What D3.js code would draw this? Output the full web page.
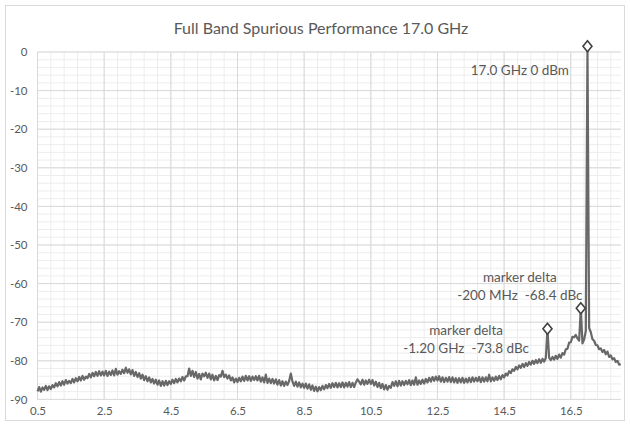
<!DOCTYPE html>
<html><head><meta charset="utf-8">
<script src="https://cdn.jsdelivr.net/npm/d3@7/dist/d3.min.js"></script>
<style>
html,body{margin:0;padding:0;background:#fff;}
svg{display:block;font-family:Lato,"Open Sans","Noto Sans",sans-serif;}
</style>
</head><body>
<svg id="chart" width="630" height="426"></svg>
<script>
// ---------------- data ----------------
const freqStart = 0.5;   // GHz, first sample
const freqStep = 0.05;   // GHz between samples
// measured level (dBm), one value per 0.05 GHz from 0.5 to 18.0 GHz
const levels = [
  -87.9,-86.8,-88.0,-86.9,-87.5,-86.5,-87.6,-86.6,-87.3,-86.3,
  -86.9,-85.8,-86.6,-85.5,-86.4,-85.3,-86.2,-85.0,-85.9,-85.2,
  -85.8,-84.7,-85.6,-84.5,-85.3,-84.2,-85.1,-83.9,-84.9,-84.1,
  -84.5,-83.4,-84.3,-83.1,-84.0,-82.9,-83.9,-82.7,-83.8,-82.8,
  -83.8,-82.6,-83.9,-82.8,-83.7,-82.5,-83.8,-82.1,-83.6,-82.7,
  -83.4,-82.3,-83.2,-81.8,-83.1,-82.2,-83.5,-82.4,-83.9,-82.9,
  -84.2,-83.2,-84.6,-83.6,-85.0,-84.0,-85.3,-84.3,-85.6,-84.7,
  -85.9,-84.9,-86.2,-85.1,-86.5,-85.3,-86.4,-85.2,-86.3,-85.3,
  -86.0,-84.9,-85.8,-84.7,-85.6,-84.6,-85.3,-84.2,-85.1,-84.0,
  -84.0,-82.0,-83.9,-82.6,-84.2,-82.9,-84.6,-83.4,-84.8,-83.3,
  -84.0,-83.1,-84.4,-83.3,-84.8,-83.6,-85.1,-83.9,-85.0,-83.7,
  -84.1,-82.6,-84.2,-83.6,-84.6,-83.8,-85.1,-84.3,-85.6,-84.6,
  -85.5,-84.4,-85.3,-84.1,-85.2,-83.9,-85.1,-84.0,-85.2,-84.1,
  -85.0,-84.0,-85.1,-83.9,-85.4,-84.3,-85.6,-83.6,-85.7,-84.6,
  -85.8,-84.7,-85.9,-84.8,-86.2,-85.0,-86.4,-85.3,-86.5,-85.4,
  -86.3,-85.2,-83.3,-85.4,-86.5,-85.4,-86.7,-85.6,-86.9,-85.9,
  -87.0,-85.9,-87.2,-86.1,-87.5,-86.4,-87.8,-86.7,-87.9,-86.8,
  -87.6,-86.5,-87.4,-86.3,-87.1,-86.0,-87.0,-85.8,-86.8,-85.7,
  -86.9,-85.8,-86.8,-85.6,-86.9,-85.7,-86.7,-85.5,-86.8,-85.7,
  -86.8,-85.6,-84.8,-85.4,-86.1,-84.9,-86.2,-85.1,-86.0,-84.9,
  -86.0,-85.0,-86.4,-85.4,-86.8,-85.7,-87.1,-86.0,-87.4,-86.3,
  -87.5,-86.5,-87.0,-85.5,-86.5,-85.3,-86.6,-85.2,-86.4,-85.3,
  -86.3,-85.2,-86.1,-85.0,-86.3,-85.1,-86.2,-84.3,-86.2,-85.1,
  -86.0,-84.9,-85.9,-84.7,-85.6,-84.4,-85.4,-84.2,-85.2,-84.1,
  -85.1,-84.0,-85.4,-84.3,-85.5,-84.4,-85.4,-84.2,-85.5,-84.3,
  -85.6,-84.5,-85.7,-84.5,-85.6,-84.4,-85.7,-84.6,-85.6,-84.4,
  -85.5,-84.3,-85.4,-84.4,-85.3,-84.2,-85.5,-84.3,-85.4,-84.3,
  -85.3,-83.6,-85.3,-84.3,-85.2,-84.1,-85.0,-83.9,-84.8,-83.7,
  -84.3,-83.3,-83.8,-82.7,-83.2,-82.2,-82.6,-81.6,-82.2,-81.2,
  -81.8,-80.8,-81.6,-80.6,-81.3,-80.3,-81.0,-80.0,-80.8,-79.8,
  -80.6,-79.6,-80.5,-79.5,-80.2,-79.3,-71.7,-79.2,-79.8,-79.0,
  -79.7,-78.7,-79.5,-78.4,-79.2,-78.0,-78.4,-77.0,-76.9,-75.3,
  -75.2,-73.8,-73.9,-73.3,-74.2,-74.8,-66.4,-75.5,-74.5,-72.3,
    1.5,-71.5,-72.6,-74.4,-74.8,-75.9,-76.0,-77.0,-76.8,-77.7,
  -77.2,-78.3,-77.6,-79.0,-78.6,-79.6,-79.3,-80.3,-80.0,-81.0,
  -80.9
];
const xTickLabels = [0.5, 2.5, 4.5, 6.5, 8.5, 10.5, 12.5, 14.5, 16.5];
const yTickLabels = [0, -10, -20, -30, -40, -50, -60, -70, -80, -90];
const markerFreqs = [15.8, 16.8, 17.0];
const markerLevels = [-71.7, -66.4, 1.5];
const titleText = "Full Band Spurious Performance 17.0 GHz";
const noteLines = [
  ["17.0 GHz 0 dBm"],
  ["marker delta", "-200 MHz  -68.4 dBc"],
  ["marker delta", "-1.20 GHz  -73.8 dBc"]
];
// anchor of each note in chart units (GHz, dB)
const noteFreqs = [14.97, 14.97, 13.36];
const noteLevels = [-4.7, -58.3, -72.1];

// ---------------- layout ----------------
const W = 630, H = 426;
const plot = {left: 37.5, right: 620.8, top: 52, bottom: 399.4};
const textColor = "#595959";

const svg = d3.select("#chart");
svg.append("rect").attr("x", 5.5).attr("y", 5.5).attr("width", W - 11).attr("height", H - 11)
  .attr("fill", "#fff").attr("stroke", "#d9d9d9").attr("stroke-width", 1);

const x = d3.scaleLinear().domain([0.5, 18.0]).range([plot.left, plot.right]);
const y = d3.scaleLinear().domain([-90, 0]).range([plot.bottom, plot.top]);

// minor gridlines
const g = svg.append("g");
const minorX = d3.range(0.5, 18.0001, 0.4);
const minorY = d3.range(-90, 0.001, 2);
g.selectAll(".mx").data(minorX).join("line")
  .attr("x1", d => x(d)).attr("x2", d => x(d)).attr("y1", plot.top).attr("y2", plot.bottom)
  .attr("stroke", "#ededed").attr("stroke-width", 1);
g.selectAll(".my").data(minorY).join("line")
  .attr("x1", plot.left).attr("x2", plot.right).attr("y1", d => y(d)).attr("y2", d => y(d))
  .attr("stroke", "#ededed").attr("stroke-width", 1);
// major gridlines
g.selectAll(".Mx").data(xTickLabels).join("line")
  .attr("x1", d => x(d)).attr("x2", d => x(d)).attr("y1", plot.top).attr("y2", plot.bottom)
  .attr("stroke", "#d9d9d9").attr("stroke-width", 1);
g.selectAll(".My").data(yTickLabels).join("line")
  .attr("x1", plot.left).attr("x2", plot.right).attr("y1", d => y(d)).attr("y2", d => y(d))
  .attr("stroke", "#d9d9d9").attr("stroke-width", 1);

// axes (labels only)
const xAxis = svg.append("g").attr("transform", `translate(0,${plot.bottom})`)
  .call(d3.axisBottom(x).tickValues(xTickLabels).tickSize(0).tickPadding(7).tickFormat(d3.format(".1f")));
const yAxis = svg.append("g").attr("transform", `translate(${plot.left},0)`)
  .call(d3.axisLeft(y).tickValues(yTickLabels).tickSize(0).tickPadding(10).tickFormat(d => d));
[xAxis, yAxis].forEach(a => {
  a.select(".domain").remove();
  a.selectAll("text").attr("fill", textColor).style("font-size", "11.5px").style("font-family", "Lato, sans-serif");
});

// trace
const pts = levels.map((v, i) => [freqStart + i * freqStep, v]);
svg.append("path").datum(pts)
  .attr("fill", "none").attr("stroke", "#686868").attr("stroke-width", 2.2)
  .attr("stroke-linejoin", "round")
  .attr("d", d3.line().x(d => x(d[0])).y(d => y(d[1])));

// markers
svg.selectAll(".mk").data(markerFreqs).join("path")
  .attr("transform", (d, i) => `translate(${x(d)},${y(markerLevels[i])})`)
  .attr("d", "M0,-5.5L4.5,0L0,5.5L-4.5,0Z")
  .attr("fill", "#fff").attr("stroke", "#404040").attr("stroke-width", 1.6);

// notes
noteLines.forEach((lines, i) => {
  const t = svg.append("text").attr("fill", textColor)
    .attr("text-anchor", "middle").style("font-size", "13.5px").style("white-space", "pre")
    .attr("x", x(noteFreqs[i])).attr("y", y(noteLevels[i]));
  lines.forEach((s, j) => t.append("tspan").attr("x", x(noteFreqs[i]))
    .attr("dy", j === 0 ? "0.35em" : "18.3px").text(s));
});

// title
svg.append("text").attr("x", 321).attr("y", 28).attr("dy", "0.35em")
  .attr("text-anchor", "middle").attr("fill", textColor).style("font-size", "16px")
  .text(titleText);
</script>
</body></html>
